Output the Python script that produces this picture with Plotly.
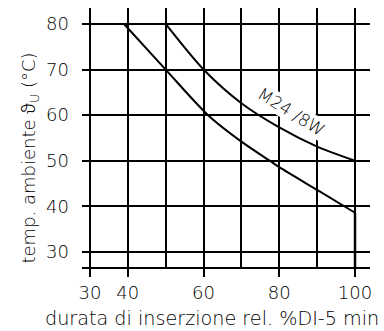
import plotly.graph_objects as go

# data
lower_x = [30, 39, 50, 61.2, 70, 77.5, 80, 90, 100, 100]
lower_y = [80, 80, 70, 60, 54.2, 50, 48.6, 43.6, 38.6, 26.7]
upper_x = [50, 60, 70, 80, 90, 100]
upper_y = [80, 70, 62.6, 57.3, 53.1, 50]
x_ticks = [30, 40, 60, 80, 100]
y_ticks = [30, 40, 50, 60, 70, 80]
curve_label = "M24 /8W"
x_title = "durata di inserzione rel. %DI-5 min"
y_title = ('temp. ambiente <span style="font-family:\'Noto Sans\';font-weight:300">ϑ</span>'
           '<sub>U</sub> (°C)')

FONT = "DejaVu Sans"
W = 200
INK = "#000000"

fig = go.Figure()
line = dict(color=INK, width=2)
fig.add_trace(go.Scatter(x=lower_x[:2], y=lower_y[:2], mode="lines", line=line))
fig.add_trace(go.Scatter(x=lower_x[1:-1], y=lower_y[1:-1], mode="lines",
                         line=dict(color=INK, width=2, shape="spline", smoothing=0.8)))
fig.add_trace(go.Scatter(x=lower_x[-2:], y=lower_y[-2:], mode="lines", line=dict(color=INK, width=2.5)))
fig.add_trace(go.Scatter(x=upper_x, y=upper_y, mode="lines",
                         line=dict(color=INK, width=2, shape="spline", smoothing=0.8)))

fig.add_annotation(x=83.3, y=60.8, text=curve_label, showarrow=False, textangle=32,
                   font=dict(family=FONT, size=17, color=INK, weight=W), bgcolor="white", borderpad=0)
fig.add_annotation(x=0.45, xref="paper", y=-0.145, yref="paper", yanchor="top",
                   text=x_title, showarrow=False, font=dict(family=FONT, size=19.2, color=INK, weight=W))
fig.add_annotation(x=-0.235, xref="paper", y=0.42, yref="paper", textangle=-90,
                   text=y_title, showarrow=False, font=dict(family=FONT, size=18, color=INK, weight=W))

fig.update_layout(
    width=384, height=331, margin=dict(l=82, r=14, t=8, b=64),
    paper_bgcolor="white", plot_bgcolor="white", showlegend=False,
    font=dict(family=FONT, size=18, color=INK, weight=W),
    xaxis=dict(range=[27.9, 103.96], tickvals=x_ticks, ticks="outside", ticklen=8,
               tickcolor=INK, tickwidth=1.5, showgrid=True, gridcolor=INK, gridwidth=1.5,
               minor=dict(tick0=0, dtick=10, showgrid=True, gridcolor=INK, gridwidth=1.5),
               showline=True, linecolor=INK, linewidth=1.5, zeroline=False,
               ticklabelstandoff=1),
    yaxis=dict(range=[26.7, 83.5], tickvals=y_ticks, showgrid=True, gridcolor=INK,
               gridwidth=1.5, zeroline=False, ticklabelstandoff=12),
)
fig.write_html("out.html")
